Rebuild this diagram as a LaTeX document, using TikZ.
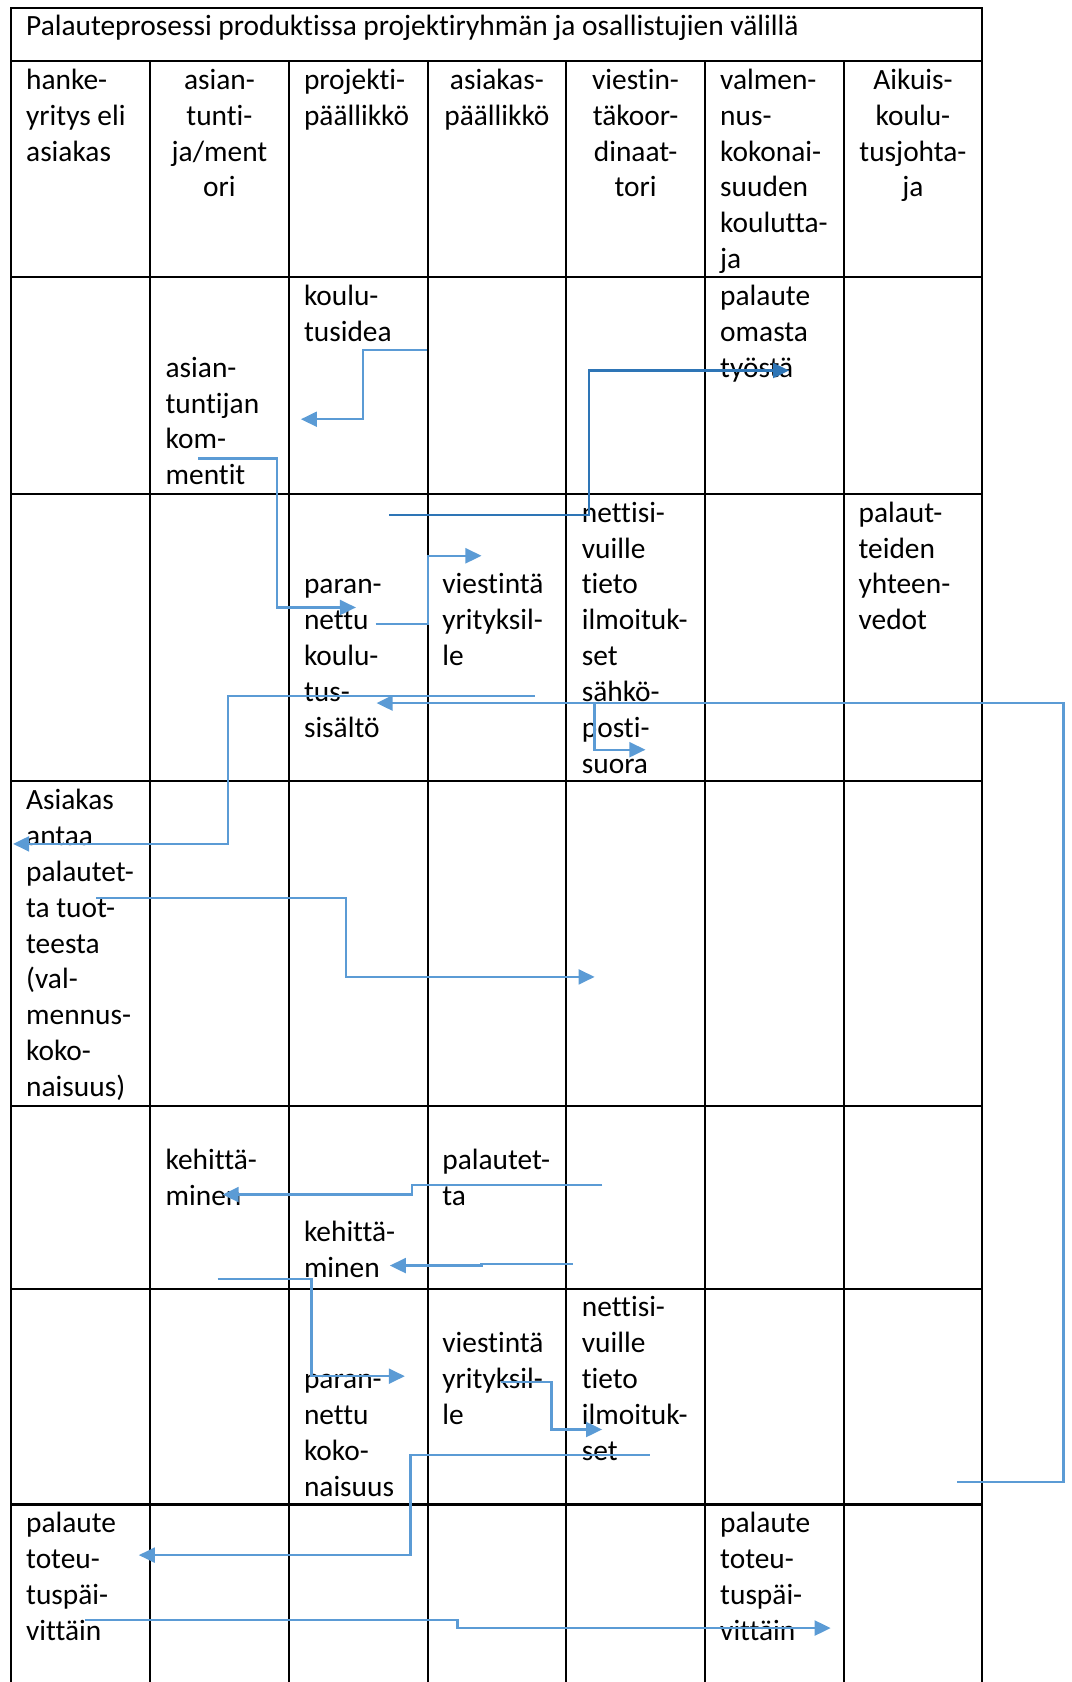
\documentclass[tikz,border=0pt]{standalone}
\usepackage{fontspec}
\setmainfont{Carlito}[Ligatures=NoCommon]
\usetikzlibrary{arrows.meta}
\definecolor{flowblue}{HTML}{5B9BD5}
\definecolor{deepblue}{HTML}{2E75B6}
\begin{document}
\begin{tikzpicture}[x=0.5pt,y=-0.5pt,
  gridline/.style={draw=black,line width=0.95pt},
  celltext/.style={anchor=base west,align=left,inner sep=0pt,font=\fontsize{13.7}{16.7}\selectfont},
  headtext/.style={anchor=base,align=center,inner sep=0pt,font=\fontsize{13.7}{16.7}\selectfont},
  flow/.style={draw=flowblue,line width=1.05pt,-{Triangle[length=7.5pt,width=7pt]}},
  darkflow/.style={draw=deepblue,line width=1.05pt,-{Triangle[length=7.5pt,width=7pt]}}]
\useasboundingbox (0,0) rectangle (999,1568);
% table grid
\draw[gridline] (10.7,1568) -- (10.7,7.5) -- (915.8,7.5) -- (915.8,1568);
\foreach \yy in {56.8,258.4,460.4,728.4,1030.6,1201.2,1402.5}
  \draw[gridline] (10.7,\yy) -- (915.8,\yy);
\foreach \xx in {140,269.3,398.6,527.9,657.2,786.5}
  \draw[gridline] (\xx,56.8) -- (\xx,1568);
% title (node positions give the baseline of the last line)
\node[celltext] (title) at (24,33.5) {Palauteprosessi produktissa projektiryhmän ja osallistujien välillä};
% header row
\node[celltext] (h1) at (24,150.1) {hanke-\\yritys eli\\asiakas};
\node[headtext] (h2) at (204.6,183.5) {asian-\\tunti-\\ja/ment\\ori};
\node[celltext] (h3) at (283,116.7) {projekti-\\päällikkö};
\node[headtext] (h4) at (463.2,116.7) {asiakas-\\päällikkö};
\node[headtext] (h5) at (592.5,183.5) {viestin-\\täkoor-\\dinaat-\\tori};
\node[celltext] (h6) at (671,250.3) {valmen-\\nus-\\kokonai-\\suuden\\koulutta-\\ja};
\node[headtext] (h7) at (851.1,183.5) {Aikuis-\\koulu-\\tusjohta-\\ja};
% row 2
\node[celltext] (t1) at (283,318.3) {koulu-\\tusidea};
\node[celltext] (t2) at (154,451.9) {asian-\\tuntijan\\kom-\\mentit};
\node[celltext] (t3) at (671,351.7) {palaute\\omasta\\työstä};
% row 3
\node[celltext] (t4) at (542,720.7) {nettisi-\\vuille\\tieto\\ilmoituk-\\set\\sähkö-\\posti-\\suora};
\node[celltext] (t5) at (283,687.3) {paran-\\nettu\\koulu-\\tus-\\sisältö};
\node[celltext] (t6) at (412,620.5) {viestintä\\yrityksil-\\le};
\node[celltext] (t7) at (800,587.1) {palaut-\\teiden\\yhteen-\\vedot};
% row 4
\node[celltext] (t8) at (24,1022.1) {Asiakas\\antaa\\palautet-\\ta tuot-\\teesta\\(val-\\mennus-\\koko-\\naisuus)};
% row 5
\node[celltext] (t9) at (154,1123.9) {kehittä-\\minen};
\node[celltext] (t10) at (412,1123.9) {palautet-\\ta};
\node[celltext] (t11) at (283,1190.7) {kehittä-\\minen};
% row 6
\node[celltext] (t12) at (542,1361.3) {nettisi-\\vuille\\tieto\\ilmoituk-\\set};
\node[celltext] (t13) at (412,1327.9) {viestintä\\yrityksil-\\le};
\node[celltext] (t14) at (283,1394.7) {paran-\\nettu\\koko-\\naisuus};
% row 7
\node[celltext] (t15) at (24,1529.2) {palaute\\toteu-\\tuspäi-\\vittäin};
\node[celltext] (t16) at (671,1529.2) {palaute\\toteu-\\tuspäi-\\vittäin};
% connector end points
\coordinate (a1s) at (397.6,326.2);  \coordinate (a1e) at (280.5,390.8);
\coordinate (a2s) at (184.8,427.4);  \coordinate (a2e) at (331.8,566.3);
\coordinate (a3s) at (350.1,581.5);  \coordinate (a3e) at (448.9,518.1);
\coordinate (a4s) at (362.8,480.2);  \coordinate (a4e) at (735.6,345.4);
\coordinate (a5s) at (498.5,648.5);  \coordinate (a5e) at (12.2,786.7);
\coordinate (a6s) at (892.4,1381.7); \coordinate (a6e) at (351,655.4);
\coordinate (a7s) at (554.3,655.4);  \coordinate (a7e) at (601.7,698.9);
\coordinate (a8s) at (89.6,837.1);   \coordinate (a8e) at (554.3,910.7);
\coordinate (a9s) at (561.6,1104.6); \coordinate (a9e) at (207.5,1113.6);
\coordinate (a10s) at (533.7,1178.5); \coordinate (a10e) at (363.4,1179.8);
\coordinate (a11s) at (202.8,1192.2); \coordinate (a11e) at (377.4,1282.9);
\coordinate (a12s) at (466.6,1288.5); \coordinate (a12e) at (561.3,1332.6);
\coordinate (a13s) at (605.7,1356.2); \coordinate (a13e) at (129.4,1449.7);
\coordinate (a14s) at (79.7,1510);    \coordinate (a14e) at (774.4,1517.7);
% connectors
\draw[flow] (a1s) -- ++(-59,0) |- (a1e);
\draw[flow] (a2s) -- ++(73.6,0) |- (a2e);
\draw[flow] (a3s) -- ++(49.1,0) |- (a3e);
\draw[darkflow] (a4s) -- ++(186.5,0) |- (a4e);
\draw[flow] (a5s) -- ++(-285.9,0) |- (a5e);
\draw[flow] (a6s) -- ++(98.9,0) |- (a6e);
\draw[flow] (a7s) |- (a7e);
\draw[flow] (a8s) -- ++(233.1,0) |- (a8e);
\draw[flow] (a9s) -- ++(-177.4,0) |- (a9e);
\draw[flow] (a10s) -- ++(-84.8,0) |- (a10e);
\draw[flow] (a11s) -- ++(87.6,0) |- (a11e);
\draw[flow] (a12s) -- ++(47.5,0) |- (a12e);
\draw[flow] (a13s) -- ++(-223.1,0) |- (a13e);
\draw[flow] (a14s) -- ++(346.7,0) |- (a14e);
\end{tikzpicture}
\end{document}
